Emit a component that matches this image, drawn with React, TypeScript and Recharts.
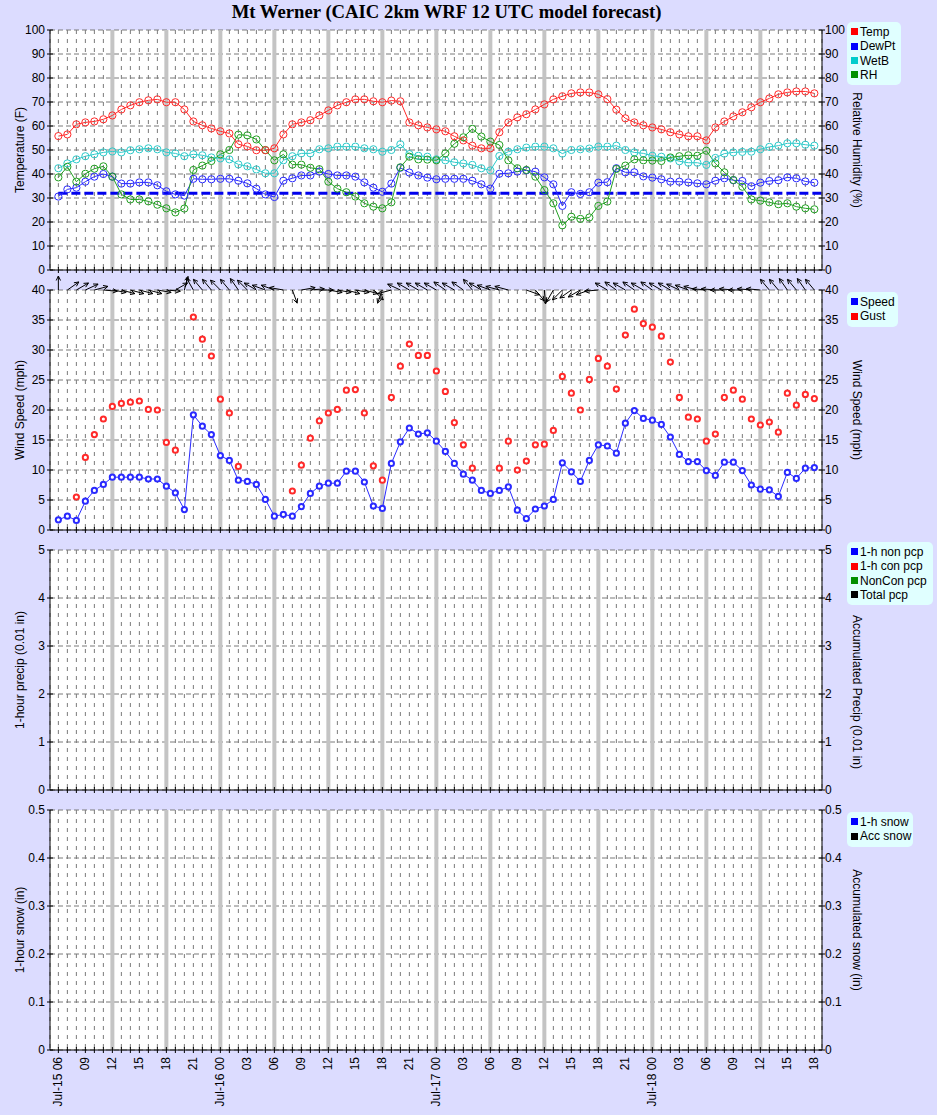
import React from 'react';
import {
  ComposedChart,
  Line,
  Bar,
  Scatter,
  XAxis,
  YAxis,
  CartesianGrid,
  ReferenceLine,
} from 'recharts';

// ---------------------------------------------------------------------------
// Forecast data: hourly from Jul-15 06 UTC (index 0) to Jul-18 18 UTC (index 84)
// ---------------------------------------------------------------------------
const temp = [
  55.8, 56.5, 60.7, 61.5, 61.9, 62.8, 64.4, 66.9, 68.6, 69.9,
  70.7, 71.1, 69.9, 69.9, 66.9, 61.9, 60.3, 59.0, 57.8, 56.9,
  52.4, 51.5, 49.9, 49.9, 50.7, 56.5, 60.7, 61.5, 62.4, 64.4,
  66.5, 68.6, 69.9, 71.1, 71.1, 70.3, 69.9, 70.6, 70.3, 61.5,
  60.3, 59.4, 58.6, 57.8, 55.7, 54.0, 51.8, 50.7, 50.7, 57.4,
  61.5, 63.6, 64.9, 66.9, 69.0, 71.1, 72.4, 73.6, 74.0, 74.0,
  73.2, 71.2, 66.8, 63.2, 61.5, 60.3, 59.4, 58.6, 57.4, 56.5,
  55.7, 55.7, 54.0, 59.4, 61.9, 64.0, 65.7, 67.8, 69.9, 71.5,
  73.2, 74.0, 74.4, 74.4, 73.6,
];
const dewpt = [
  30.6, 33.6, 34.3, 36.8, 38.9, 40.0, 38.9, 36.0, 36.0, 36.5,
  36.5, 35.3, 32.8, 31.5, 31.0, 38.0, 37.8, 37.8, 38.0, 38.0,
  37.2, 36.1, 33.9, 31.5, 30.4, 37.2, 38.2, 39.4, 39.4, 41.0,
  40.0, 39.4, 39.4, 38.9, 36.5, 34.3, 32.6, 36.0, 42.6, 40.6,
  39.4, 38.5, 37.8, 38.0, 38.0, 38.0, 37.2, 35.7, 33.9, 40.1,
  40.3, 41.0, 41.5, 41.0, 38.6, 35.7, 26.7, 32.4, 31.7, 32.4,
  36.4, 36.6, 42.4, 40.7, 40.7, 39.0, 38.5, 37.8, 36.8, 36.8,
  36.5, 36.1, 35.7, 37.2, 38.2, 37.4, 37.1, 34.9, 36.4, 37.1,
  37.4, 38.6, 38.2, 36.9, 36.4,
];
const wetb = [
  42.4, 44.4, 46.1, 47.4, 48.2, 49.0, 49.4, 49.0, 49.9, 50.3,
  50.7, 50.3, 49.0, 48.6, 47.4, 48.2, 47.8, 46.9, 46.5, 46.1,
  44.0, 43.2, 41.9, 40.3, 40.3, 45.7, 47.4, 48.6, 48.6, 50.3,
  50.7, 51.4, 51.4, 51.4, 50.7, 50.3, 49.3, 50.0, 52.4, 48.3,
  47.6, 47.2, 46.1, 45.7, 44.9, 44.4, 43.8, 42.4, 41.5, 47.5,
  49.3, 50.3, 51.0, 51.4, 51.4, 50.7, 48.5, 50.0, 50.3, 50.6,
  51.4, 51.4, 51.8, 50.0, 49.0, 48.6, 47.6, 47.2, 46.5, 45.3,
  44.7, 44.7, 43.8, 46.7, 48.5, 49.0, 49.2, 49.3, 50.3, 51.3,
  51.8, 52.8, 52.8, 52.2, 51.8,
];
const rh = [
  38.6, 43.0, 36.8, 40.1, 42.2, 43.2, 38.9, 31.5, 29.4, 29.4,
  28.6, 27.2, 25.7, 24.0, 25.6, 41.7, 43.5, 45.4, 48.2, 50.0,
  56.4, 56.1, 54.4, 50.0, 45.7, 48.2, 43.9, 43.9, 42.6, 42.0,
  36.8, 33.9, 32.4, 30.6, 27.8, 26.4, 25.7, 28.2, 42.8, 47.2,
  46.1, 46.0, 45.7, 48.6, 52.6, 55.3, 58.8, 55.6, 53.5, 52.1,
  45.7, 42.4, 41.7, 38.9, 33.3, 27.8, 18.6, 22.2, 21.3, 21.9,
  26.7, 28.5, 42.1, 43.5, 46.1, 45.7, 45.6, 45.4, 46.9, 47.4,
  47.8, 47.6, 49.7, 44.4, 40.7, 37.5, 34.7, 29.4, 28.9, 28.2,
  27.4, 27.8, 26.4, 25.7, 25.3,
];
const speed = [
  1.7, 2.3, 1.6, 4.8, 6.6, 7.6, 8.8, 8.8, 8.8, 8.8,
  8.5, 8.5, 7.3, 6.2, 3.4, 19.2, 17.3, 15.9, 12.4, 11.6,
  8.3, 8.1, 7.6, 5.1, 2.3, 2.6, 2.3, 3.9, 6.1, 7.3,
  7.8, 7.8, 9.8, 9.8, 8.0, 4.0, 3.6, 11.1, 14.7, 17.0,
  16.0, 16.2, 14.8, 13.1, 11.1, 9.3, 8.3, 6.6, 6.1, 6.6,
  7.2, 3.3, 1.9, 3.5, 4.0, 5.1, 11.2, 9.7, 8.1, 11.6,
  14.2, 14.0, 12.8, 17.8, 19.9, 18.6, 18.3, 17.6, 15.5, 12.6,
  11.4, 11.4, 9.9, 9.1, 11.3, 11.3, 9.9, 7.5, 6.8, 6.7,
  5.6, 9.6, 8.6, 10.3, 10.4,
];
const gust = [
  null, null, 5.5, 12.1, 15.9, 18.5, 20.6, 21.1, 21.3, 21.5,
  20.1, 20.0, 14.6, 13.3, null, 35.5, 31.8, 29.0, 21.8, 19.5,
  10.6, null, null, null, null, null, 6.5, 10.8, 15.3, 18.2,
  19.5, 20.1, 23.3, 23.4, 19.5, 10.7, 8.3, 22.1, 27.3, 31.0,
  29.1, 29.1, 26.5, 23.1, 17.9, 14.2, 10.3, null, null, 10.3,
  14.8, 10.0, 11.5, 14.2, 14.3, 16.6, 25.6, 22.8, 20.0, 25.1,
  28.6, 27.3, 23.5, 32.5, 36.8, 34.4, 33.8, 32.3, 28.0, 22.1,
  18.8, 18.5, 14.8, 16.0, 22.1, 23.3, 21.8, 18.5, 17.5, 18.0,
  16.3, 22.8, 20.8, 22.6, 21.9,
];
// Direction the wind blows toward, degrees clockwise from straight up
const windDir = [
  0, 55, 60, 65, 75, 95, 100, 105, 105, 105,
  105, 100, 95, 60, 15, 330, 320, 320, 315, 320,
  325, 315, 300, 290, 290, 280, 160, 80, 85, 90,
  100, 100, 105, 100, 105, 135, 200, 255, 295, 300,
  300, 300, 300, 305, 300, 305, 320, 300, 290, 285,
  285, null, 110, 140, 175, 210, 225, 235, 240, 250,
  265, 300, 305, 300, 305, 300, 305, 300, 300, 295,
  290, 285, 275, 275, 270, 275, 270, 275, 275, 320,
  320, 325, 320, 325, 320,
];
// Hourly precipitation and snowfall (none forecast)
const pcpNonConv = [
  0, 0, 0, 0, 0, 0, 0, 0, 0, 0, 0, 0, 0, 0, 0, 0, 0,
  0, 0, 0, 0, 0, 0, 0, 0, 0, 0, 0, 0, 0, 0, 0, 0, 0,
  0, 0, 0, 0, 0, 0, 0, 0, 0, 0, 0, 0, 0, 0, 0, 0, 0,
  0, 0, 0, 0, 0, 0, 0, 0, 0, 0, 0, 0, 0, 0, 0, 0, 0,
  0, 0, 0, 0, 0, 0, 0, 0, 0, 0, 0, 0, 0, 0, 0, 0, 0,
];
const pcpConv = [
  0, 0, 0, 0, 0, 0, 0, 0, 0, 0, 0, 0, 0, 0, 0, 0, 0,
  0, 0, 0, 0, 0, 0, 0, 0, 0, 0, 0, 0, 0, 0, 0, 0, 0,
  0, 0, 0, 0, 0, 0, 0, 0, 0, 0, 0, 0, 0, 0, 0, 0, 0,
  0, 0, 0, 0, 0, 0, 0, 0, 0, 0, 0, 0, 0, 0, 0, 0, 0,
  0, 0, 0, 0, 0, 0, 0, 0, 0, 0, 0, 0, 0, 0, 0, 0, 0,
];
const snow1h = [
  0, 0, 0, 0, 0, 0, 0, 0, 0, 0, 0, 0, 0, 0, 0, 0, 0,
  0, 0, 0, 0, 0, 0, 0, 0, 0, 0, 0, 0, 0, 0, 0, 0, 0,
  0, 0, 0, 0, 0, 0, 0, 0, 0, 0, 0, 0, 0, 0, 0, 0, 0,
  0, 0, 0, 0, 0, 0, 0, 0, 0, 0, 0, 0, 0, 0, 0, 0, 0,
  0, 0, 0, 0, 0, 0, 0, 0, 0, 0, 0, 0, 0, 0, 0, 0, 0,
];

// Time-axis labels, one every 3 hours
const timeLabels = [
  'Jul-15 06', '09', '12', '15', '18', '21',
  'Jul-16 00', '03', '06', '09', '12', '15', '18', '21',
  'Jul-17 00', '03', '06', '09', '12', '15', '18', '21',
  'Jul-18 00', '03', '06', '09', '12', '15', '18',
];
const labelStep = 3;
const dayMarkStep = 6; // shaded bars every 6 hours

const tempTicks = [0, 10, 20, 30, 40, 50, 60, 70, 80, 90, 100];
const windTicks = [0, 5, 10, 15, 20, 25, 30, 35, 40];
const pcpTicks = [0, 1, 2, 3, 4, 5];
const snowTicks = [0, 0.1, 0.2, 0.3, 0.4, 0.5];
const freezingF = 32;

const hours = temp.map((_, i) => i);
const windTop = windTicks[windTicks.length - 1];
const shadedHours = hours.filter((h) => h > 0 && h % dayMarkStep === 0 && h < hours.length - 1);

const rows = hours.map((h) => ({
  hour: h,
  temp: temp[h],
  dewpt: dewpt[h],
  wetb: wetb[h],
  rh: rh[h],
  speed: speed[h],
  gust: gust[h],
  dir: windDir[h],
  arrowAt: windTop,
  pcpNon: pcpNonConv[h],
  pcpCon: pcpConv[h],
  snow: snow1h[h],
}));

// ---------------------------------------------------------------------------
// Styling
// ---------------------------------------------------------------------------
const FONT = "'Liberation Sans', Arial, sans-serif";
const BG = '#dcdcff';
const W = 937;
const PLOT_LEFT = 50;
const PLOT_RIGHT = 822;
const AXIS_W = 40;
const X_DOMAIN: [number, number] = [-0.93, 84.85];

const RED = '#ff2a2a';
const BLUE = '#2a2aff';
const CYAN = '#2ccaca';
const GREEN = '#22a022';

const chartMargin = (top: number) => ({
  top,
  right: W - PLOT_RIGHT - AXIS_W,
  bottom: 0,
  left: PLOT_LEFT - AXIS_W,
});

const HourTick = (props: any) => {
  const { x, y, payload, showLabel } = props;
  const h = payload.value;
  const label = h % labelStep === 0 ? timeLabels[h / labelStep] : null;
  return (
    <g>
      <line x1={x} x2={x} y1={y - 3} y2={y + 3} stroke="#000" />
      {showLabel && label ? (
        <text
          transform={`translate(${x},${y + 7}) rotate(-90)`}
          textAnchor="end"
          dominantBaseline="central"
          fontSize={12}
          fontFamily={FONT}
          fill="#000"
        >
          {label}
        </text>
      ) : null}
    </g>
  );
};

const ValueTick = (props: any) => {
  const { x, y, payload, side } = props;
  const left = side === 'left';
  return (
    <g>
      <line x1={x - 3} x2={x + 3} y1={y} y2={y} stroke="#000" />
      <text
        x={left ? x - 5 : x + 3}
        y={y}
        textAnchor={left ? 'end' : 'start'}
        dominantBaseline="central"
        fontSize={12}
        fontFamily={FONT}
        fill="#000"
      >
        {String(payload.value)}
      </text>
    </g>
  );
};

const axisTitle = (text: string, side: 'left' | 'right', shift = 0) => (props: any) => {
  const vb = props.viewBox || {};
  const cy = vb.y + vb.height / 2 + shift;
  const cx = side === 'left' ? 20 : 857;
  return (
    <text
      x={cx}
      y={cy}
      transform={`rotate(${side === 'left' ? -90 : 90} ${cx} ${cy})`}
      textAnchor="middle"
      dominantBaseline="central"
      fontSize={12}
      fontFamily={FONT}
      fill="#000"
    >
      {text}
    </text>
  );
};

const WindArrow = (props: any) => {
  const { cx, cy, payload } = props;
  const d = payload ? payload.dir : null;
  if (d == null || !Number.isFinite(cx) || !Number.isFinite(cy)) return <g />;
  const a = (d * Math.PI) / 180;
  const L = 14;
  const head = 5;
  const spread = 0.45;
  const tx = cx + L * Math.sin(a);
  const ty = cy - L * Math.cos(a);
  const b1 = a + Math.PI - spread;
  const b2 = a + Math.PI + spread;
  return (
    <g stroke="#000" strokeWidth={1} fill="none">
      <line x1={cx} y1={cy} x2={tx} y2={ty} />
      <path
        d={`M${tx + head * Math.sin(b1)},${ty - head * Math.cos(b1)} L${tx},${ty} L${tx + head * Math.sin(b2)},${ty - head * Math.cos(b2)}`}
      />
    </g>
  );
};

const commonLayers = () => [
  <CartesianGrid key="gh" vertical={false} fill="#ffffff" stroke="#7a7a7a" strokeDasharray="5 3" />,
  <CartesianGrid key="gv" horizontal={false} stroke="#7a7a7a" strokeDasharray="4 5" />,
  ...shadedHours.map((h) => (
    <ReferenceLine key={`d${h}`} x={h} stroke="#c4c4c4" strokeWidth={4} />
  )),
];

const timeAxis = (withLabels: boolean) => (
  <XAxis
    key="x"
    dataKey="hour"
    type="number"
    domain={X_DOMAIN}
    ticks={hours}
    interval={0}
    tickSize={0}
    tickMargin={0}
    height={withLabels ? 65 : 10}
    axisLine={{ stroke: '#000' }}
    tickLine={false}
    tick={(p: any) => <HourTick {...p} showLabel={withLabels} />}
  />
);

const valueAxes = (ticks: number[], leftTitle: string, rightTitle: string, rightShift = 0) => [
  <YAxis
    key="yl"
    domain={[ticks[0], ticks[ticks.length - 1]]}
    ticks={ticks}
    interval={0}
    width={AXIS_W}
    tickSize={0}
    tickMargin={0}
    axisLine={{ stroke: '#000' }}
    tickLine={false}
    tick={(p: any) => <ValueTick {...p} side="left" />}
    label={axisTitle(leftTitle, 'left')}
  />,
  <YAxis
    key="yr"
    yAxisId="r"
    orientation="right"
    domain={[ticks[0], ticks[ticks.length - 1]]}
    ticks={ticks}
    interval={0}
    allowDataOverflow
    width={AXIS_W}
    tickSize={0}
    tickMargin={0}
    axisLine={{ stroke: '#000' }}
    tickLine={false}
    tick={(p: any) => <ValueTick {...p} side="right" />}
    label={axisTitle(rightTitle, 'right', rightShift)}
  />,
];

type LegendItem = { label: string; color: string };

const LegendBox = ({ x, y, w, items }: { x: number; y: number; w: number; items: LegendItem[] }) => (
  <div
    style={{
      position: 'absolute',
      left: x,
      top: y,
      width: w,
      height: items.length * 14.3 + 6,
      background: '#e0ffff',
      borderRadius: 5,
      fontFamily: FONT,
      fontSize: 12,
      color: '#000',
    }}
  >
    {items.map((it, i) => (
      <div
        key={it.label}
        style={{
          position: 'absolute',
          left: 4,
          top: 3 + i * 14.3,
          height: 14,
          lineHeight: '14px',
          whiteSpace: 'nowrap',
        }}
      >
        <span
          style={{
            display: 'inline-block',
            width: 7,
            height: 7,
            background: it.color,
            marginRight: 2,
            verticalAlign: 'middle',
            position: 'relative',
            top: -1,
          }}
        />
        {it.label}
      </div>
    ))}
  </div>
);

const lineDot = (c: string) => ({ r: 3.6, stroke: c, strokeWidth: 1, fill: 'none' });
const windDot = (c: string) => ({ r: 2.6, stroke: c, strokeWidth: 2, fill: '#fff' });

export default function App() {
  return (
    <div
      style={{
        position: 'absolute',
        left: 0,
        top: 0,
        width: W,
        height: 1115,
        background: BG,
        overflow: 'hidden',
      }}
    >
      <div
        style={{
          position: 'absolute',
          left: 0,
          top: 2,
          width: 893,
          textAlign: 'center',
          fontFamily: "'Liberation Serif', 'Times New Roman', serif",
          fontWeight: 'bold',
          fontSize: 18.7,
          lineHeight: '20px',
        }}
      >
        Mt Werner (CAIC 2km WRF 12 UTC model forecast)
      </div>

      {/* Temperature / humidity */}
      <div style={{ position: 'absolute', left: 0, top: 0 }}>
        <ComposedChart width={W} height={280} data={rows} margin={chartMargin(30)}>
          {commonLayers()}
          {timeAxis(false)}
          {valueAxes(tempTicks, 'Temperature (F)', 'Relative Humidity (%)')}
          <ReferenceLine
            segment={[
              { x: 0, y: freezingF },
              { x: X_DOMAIN[1], y: freezingF },
            ]}
            stroke="#0000ee"
            strokeWidth={3}
            strokeDasharray="9 4"
          />
          <Line dataKey="wetb" stroke={CYAN} strokeWidth={1} dot={lineDot(CYAN)} isAnimationActive={false} />
          <Line dataKey="dewpt" stroke={BLUE} strokeWidth={1} dot={lineDot(BLUE)} isAnimationActive={false} />
          <Line yAxisId="r" dataKey="rh" stroke={GREEN} strokeWidth={1} dot={lineDot(GREEN)} isAnimationActive={false} />
          <Line dataKey="temp" stroke={RED} strokeWidth={1} dot={lineDot(RED)} isAnimationActive={false} />
        </ComposedChart>
      </div>

      {/* Wind */}
      <div style={{ position: 'absolute', left: 0, top: 270 }}>
        <ComposedChart width={W} height={270} data={rows} margin={chartMargin(20)}>
          {commonLayers()}
          {timeAxis(false)}
          {valueAxes(windTicks, 'Wind Speed (mph)', 'Wind Speed (mph)')}
          <Line dataKey="speed" stroke={BLUE} strokeWidth={1} dot={windDot(BLUE)} isAnimationActive={false} />
          <Line
            dataKey="gust"
            stroke="none"
            dot={windDot(RED)}
            activeDot={false}
            isAnimationActive={false}
          />
          <Scatter dataKey="arrowAt" shape={WindArrow} isAnimationActive={false} />
        </ComposedChart>
      </div>

      {/* Precipitation */}
      <div style={{ position: 'absolute', left: 0, top: 530 }}>
        <ComposedChart width={W} height={270} data={rows} margin={chartMargin(20)}>
          {commonLayers()}
          {timeAxis(false)}
          {valueAxes(pcpTicks, '1-hour precip (0.01 in)', 'Accumulated Precip (0.01 in)', 22)}
          <Bar dataKey="pcpNon" stackId="p" fill="#0000ff" barSize={6} isAnimationActive={false} />
          <Bar dataKey="pcpCon" stackId="p" fill="#ff0000" barSize={6} isAnimationActive={false} />
        </ComposedChart>
      </div>

      {/* Snow */}
      <div style={{ position: 'absolute', left: 0, top: 790 }}>
        <ComposedChart width={W} height={325} data={rows} margin={chartMargin(20)}>
          {commonLayers()}
          {timeAxis(true)}
          {valueAxes(snowTicks, '1-hour snow (in)', 'Accumulated snow (in)')}
          <Bar dataKey="snow" fill="#0000ff" barSize={6} isAnimationActive={false} />
        </ComposedChart>
      </div>

      <LegendBox
        x={847}
        y={22}
        w={54}
        items={[
          { label: 'Temp', color: '#ff0000' },
          { label: 'DewPt', color: '#0000ff' },
          { label: 'WetB', color: '#00cccc' },
          { label: 'RH', color: '#009000' },
        ]}
      />
      <LegendBox
        x={847}
        y={292}
        w={51}
        items={[
          { label: 'Speed', color: '#0000ff' },
          { label: 'Gust', color: '#ff0000' },
        ]}
      />
      <LegendBox
        x={847}
        y={542}
        w={86}
        items={[
          { label: '1-h non pcp', color: '#0000ff' },
          { label: '1-h con pcp', color: '#ff0000' },
          { label: 'NonCon pcp', color: '#009000' },
          { label: 'Total pcp', color: '#000000' },
        ]}
      />
      <LegendBox
        x={847}
        y={812}
        w={66}
        items={[
          { label: '1-h snow', color: '#0000ff' },
          { label: 'Acc snow', color: '#000000' },
        ]}
      />
    </div>
  );
}
